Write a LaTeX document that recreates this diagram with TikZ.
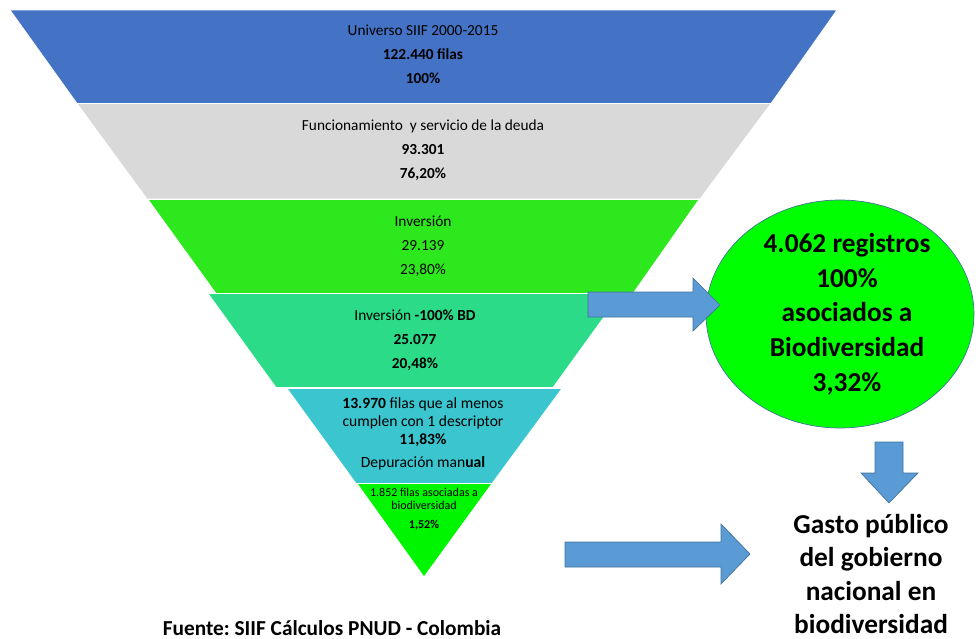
\documentclass[tikz,border=0pt]{standalone}
\usepackage{fontspec}
\setmainfont{Carlito}
\usetikzlibrary{shapes.geometric}
\definecolor{layerblue}{HTML}{4472C4}
\definecolor{layergray}{HTML}{D9D9D9}
\definecolor{layergreen}{HTML}{2EE81E}
\definecolor{layerteal}{HTML}{2BDB88}
\definecolor{layercyan}{HTML}{3AC5CF}
\definecolor{layerlime}{HTML}{00F500}
\definecolor{resultgreen}{HTML}{00FF00}
\definecolor{arrowblue}{HTML}{5B9BD5}
\definecolor{arrowedge}{HTML}{41719C}
\begin{document}
\frenchspacing
\begin{tikzpicture}[x=0.75pt,y=-0.75pt,
    layer/.style={draw=white, line width=0.6pt},
    layertext/.style={align=center, inner sep=0pt, font=\fontsize{11.5}{18}\selectfont},
    blockarrow/.style={fill=arrowblue, draw=arrowedge, line width=0.5pt},
    bigtext/.style={align=center, inner sep=0pt, font=\bfseries\fontsize{20.5}{25}\selectfont}]
    \useasboundingbox (0,0) rectangle (979,639);

    % funnel
    \draw[layer, fill=layerblue] (10,10) -- (837,10) -- (771,103.5) -- (77,103.5) -- cycle;
    \draw[layer, fill=layergray] (77,103.5) -- (771,103.5) -- (700,199) -- (147,199) -- cycle;
    \draw[layer, fill=layergreen] (148,199.5) -- (699,199.5) -- (633,293.5) -- (216,293.5) -- cycle;
    \draw[layer, fill=layerteal] (208,293.5) -- (621,293.5) -- (553,387.5) -- (276,387.5) -- cycle;
    \draw[layer, fill=layercyan] (287,388.5) -- (562,388.5) -- (492,483.5) -- (356,483.5) -- cycle;
    \draw[layer, fill=layerlime] (357,483.5) -- (492,483.5) -- (424,577) -- cycle;

    \node[layertext] (universo) at (423,54) {Universo SIIF 2000-2015\\ \textbf{122.440 filas}\\ \textbf{100\%}};
    \node[layertext] (funcionamiento) at (423,150) {Funcionamiento\ \ y servicio de la deuda\\ \textbf{93.301}\\ \textbf{76,20\%}};
    \node[layertext] (inversion) at (423,246) {Inversión\\ 29.139\\ 23,80\%};
    \node[layertext] (inversionbd) at (415,340) {Inversión \textbf{-100\% BD}\\ \textbf{25.077}\\ \textbf{20,48\%}};
    \node[layertext, font=\fontsize{11.7}{13.5}\selectfont] (descriptor) at (423,434)
        {\textbf{13.970} filas que al menos\\ cumplen con 1 descriptor\\ \textbf{11,83\%}\\[4pt] Depuración man\textbf{ual}};
    \node[layertext, font=\fontsize{9}{9.5}\selectfont] (filas) at (424,509)
        {1.852 filas asociadas a\\ biodiversidad\\[5pt] \textbf{1,52\%}};

    % result
    \node[ellipse, draw=arrowedge, line width=0.5pt, fill=resultgreen, minimum width=201pt, minimum height=171pt,
        inner sep=0pt] (registros) at (840,314) {};
    \node[bigtext, font=\bfseries\fontsize{20.5}{26}\selectfont] (registrostext) at (847,314)
        {4.062 registros\\ 100\%\\ asociados a\\ Biodiversidad\\ 3,32\%};
    \node[bigtext] (gasto) at (871,574) {Gasto público\\ del gobierno\\ nacional en\\ biodiversidad};
    \node[inner sep=0pt, font=\bfseries\fontsize{16}{18}\selectfont] (fuente) at (332,628)
        {Fuente: SIIF Cálculos PNUD - Colombia};

    % block arrows
    \draw[blockarrow] (588,292) -- (693,292) -- (693,278) -- (720,305) -- (693,331) -- (693,317) -- (588,317) -- cycle;
    \draw[blockarrow] (875,442) -- (903,442) -- (903,473) -- (918,473) -- (889,503) -- (861,473) -- (875,473) -- cycle;
    \draw[blockarrow] (565,542) -- (721,542) -- (721,524) -- (750,554) -- (721,584) -- (721,567) -- (565,567) -- cycle;
\end{tikzpicture}
\end{document}
